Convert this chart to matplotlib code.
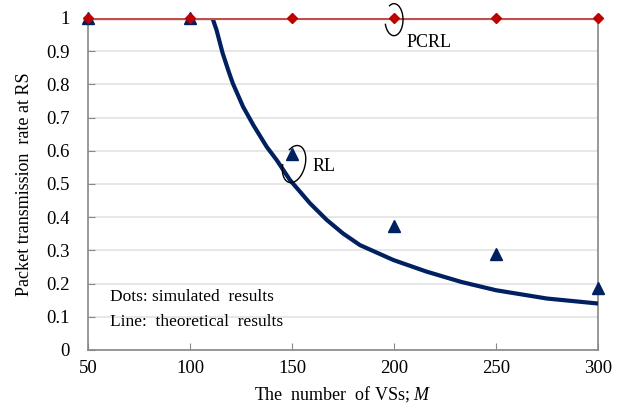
import numpy as np
import matplotlib
matplotlib.use('Agg')
import matplotlib.pyplot as plt
from matplotlib.patches import Arc
import matplotlib.transforms as transforms

plt.rcParams['font.family'] = ['Liberation Serif', 'DejaVu Serif']
plt.rcParams['mathtext.fontset'] = 'custom'
plt.rcParams['mathtext.rm'] = 'Liberation Serif'
plt.rcParams['mathtext.it'] = 'Liberation Serif:italic'

# data
vs_sim = [50, 100, 150, 200, 250, 300]
rl_sim = [1.0, 1.0, 0.59, 0.373, 0.288, 0.187]
pcrl_sim = [1.0, 1.0, 1.0, 1.0, 1.0, 1.0]

vs_theory = [50, 100, 111, 113, 116, 119, 121, 126, 131, 137.6, 142.5, 149,
             158.8, 167, 175, 183.3, 199.7, 216, 233, 250, 275, 300]
rl_theory = [1.0, 1.0, 1.0, 0.964, 0.894, 0.838, 0.803, 0.733, 0.678, 0.612, 0.572, 0.512,
             0.442, 0.392, 0.351, 0.316, 0.271, 0.236, 0.205, 0.18, 0.155, 0.14]
pcrl_theory = [1.0, 1.0, 1.0, 1.0, 1.0, 1.0]

xticks = [50, 100, 150, 200, 250, 300]
yticks = [0, 0.1, 0.2, 0.3, 0.4, 0.5, 0.6, 0.7, 0.8, 0.9, 1]
ytick_labels = ['0', '0.1', '0.2', '0.3', '0.4', '0.5', '0.6', '0.7', '0.8', '0.9', '1']

fig = plt.figure(figsize=(6.37, 4.17), dpi=100)
ax = fig.add_axes([88 / 637, 1 - 350 / 417, 510 / 637, 332 / 417])

ax.plot(vs_theory, rl_theory, color='#002060', lw=3, zorder=3)
ax.plot(vs_sim, pcrl_theory, color='#c0504d', lw=3, zorder=4)
ax.plot(vs_sim, rl_sim, '^', color='#002060', ms=8, zorder=5, clip_on=False)
ax.plot(vs_sim, pcrl_sim, 'D', color='#c00000', ms=5.5, zorder=6, clip_on=False)

ax.set_xlim(50, 300)
ax.set_ylim(0, 1)
ax.set_xticks(xticks)
ax.set_yticks(yticks)
ax.set_yticklabels(ytick_labels)
ax.tick_params(direction='in', length=5, color='#888888', labelsize=13.5)
ax.tick_params(axis='y', pad=13)
ax.tick_params(axis='x', pad=7)
ax.yaxis.grid(True, color='#e3e3e3', lw=1.2)
ax.set_axisbelow(True)
for s in ['left', 'bottom', 'right']:
    ax.spines[s].set_color('#888888')
    ax.spines[s].set_linewidth(1.2)
ax.spines['top'].set_visible(False)

ax.set_xlabel('The  number  of VSs; $M$', fontsize=13, labelpad=6)
ax.set_ylabel('Packet transmission  rate at RS', fontsize=13, labelpad=10)

ax.text(60.8, 0.16, 'Dots: simulated  results', fontsize=12.5, va='center')
ax.text(60.8, 0.084, 'Line:  theoretical  results', fontsize=12.5, va='center')
ax.text(206, 0.925, 'PCRL', fontsize=13, va='center')
ax.text(160, 0.553, 'RL', fontsize=13, va='center')

# loops marking the curves
t1 = fig.dpi_scale_trans + transforms.ScaledTranslation(200, 0.995, ax.transData)
ax.add_patch(Arc((0, 0), 0.18, 0.32, angle=0, theta1=-155, theta2=110,
                 transform=t1, color='black', lw=1, zorder=7, clip_on=False))
t2 = fig.dpi_scale_trans + transforms.ScaledTranslation(151, 0.56, ax.transData)
ax.add_patch(Arc((0, 0), 0.22, 0.38, angle=-15, theta1=-165, theta2=125,
                 transform=t2, color='black', lw=1, zorder=7, clip_on=False))

fig.savefig('out.png', dpi=100)
